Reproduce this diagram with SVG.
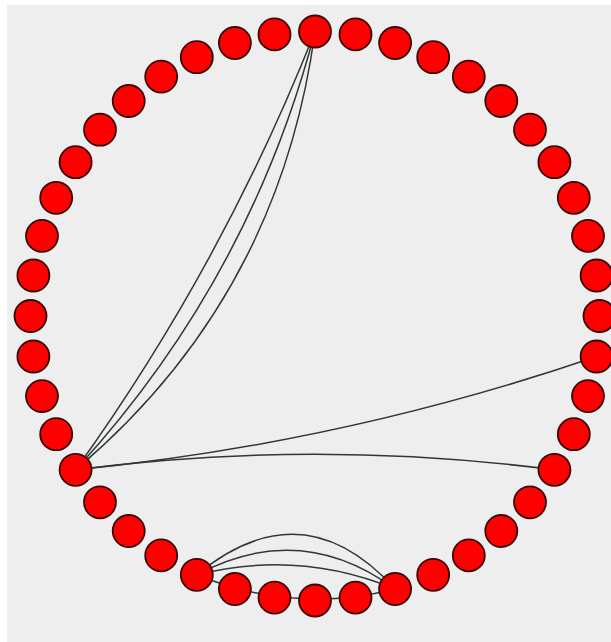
<svg xmlns="http://www.w3.org/2000/svg" width="611" height="642" viewBox="0 0 611 642">
<style>
.n{fill:#ff0000;stroke:#3a0505;stroke-width:1.8}
.e{fill:none;stroke:#2f3838;stroke-width:1.5}
</style>
<rect x="0" y="0" width="611" height="642" fill="#ffffff"/>
<rect x="7" y="5" width="604" height="637" fill="#eeeeee"/>
<g id="links">
<path class="e" d="M315,31.5 Q222.5,265.5 75.6,469.8"/>
<path class="e" d="M315,31.5 Q249.7,280.4 75.6,469.8"/>
<path class="e" d="M315,31.5 Q279,298 75.6,469.8"/>
<path class="e" d="M75.6,469.8 Q342.7,443.4 596.6,356.5"/>
<path class="e" d="M75.6,469.8 Q315,438.8 554.4,469.8"/>
<path class="e" d="M196.8,574.8 Q298.3,549.2 395.1,589"/>
<path class="e" d="M196.8,574.8 Q300.4,519.3 395.1,589"/>
<path class="e" d="M196.8,574.8 Q302.7,487.3 395.1,589"/>
<path class="e" d="M196.8,574.8 Q293.6,614.6 395.1,589"/>
</g>
<g id="nodes">
<g id="n0"><circle class="n" cx="315" cy="31.5" r="16"/></g>
<g id="n1"><circle class="n" cx="355.5" cy="34.4" r="16"/></g>
<g id="n2"><circle class="n" cx="395.1" cy="43" r="16"/></g>
<g id="n3"><circle class="n" cx="433.2" cy="57.2" r="16"/></g>
<g id="n4"><circle class="n" cx="468.8" cy="76.6" r="16"/></g>
<g id="n5"><circle class="n" cx="501.3" cy="101" r="16"/></g>
<g id="n6"><circle class="n" cx="530" cy="129.7" r="16"/></g>
<g id="n7"><circle class="n" cx="554.4" cy="162.2" r="16"/></g>
<g id="n8"><circle class="n" cx="573.8" cy="197.8" r="16"/></g>
<g id="n9"><circle class="n" cx="588" cy="235.9" r="16"/></g>
<g id="n10"><circle class="n" cx="596.6" cy="275.5" r="16"/></g>
<g id="n11"><circle class="n" cx="599.5" cy="316" r="16"/></g>
<g id="n12"><circle class="n" cx="596.6" cy="356.5" r="16"/></g>
<g id="n13"><circle class="n" cx="588" cy="396.1" r="16"/></g>
<g id="n14"><circle class="n" cx="573.8" cy="434.2" r="16"/></g>
<g id="n15"><circle class="n" cx="554.4" cy="469.8" r="16"/></g>
<g id="n16"><circle class="n" cx="530" cy="502.3" r="16"/></g>
<g id="n17"><circle class="n" cx="501.3" cy="531" r="16"/></g>
<g id="n18"><circle class="n" cx="468.8" cy="555.4" r="16"/></g>
<g id="n19"><circle class="n" cx="433.2" cy="574.8" r="16"/></g>
<g id="n20"><circle class="n" cx="395.1" cy="589" r="16"/></g>
<g id="n21"><circle class="n" cx="355.5" cy="597.6" r="16"/></g>
<g id="n22"><circle class="n" cx="315" cy="600.5" r="16"/></g>
<g id="n23"><circle class="n" cx="274.5" cy="597.6" r="16"/></g>
<g id="n24"><circle class="n" cx="234.9" cy="589" r="16"/></g>
<g id="n25"><circle class="n" cx="196.8" cy="574.8" r="16"/></g>
<g id="n26"><circle class="n" cx="161.2" cy="555.4" r="16"/></g>
<g id="n27"><circle class="n" cx="128.7" cy="531" r="16"/></g>
<g id="n28"><circle class="n" cx="100" cy="502.3" r="16"/></g>
<g id="n29"><circle class="n" cx="75.6" cy="469.8" r="16"/></g>
<g id="n30"><circle class="n" cx="56.2" cy="434.2" r="16"/></g>
<g id="n31"><circle class="n" cx="42" cy="396.1" r="16"/></g>
<g id="n32"><circle class="n" cx="33.4" cy="356.5" r="16"/></g>
<g id="n33"><circle class="n" cx="30.5" cy="316" r="16"/></g>
<g id="n34"><circle class="n" cx="33.4" cy="275.5" r="16"/></g>
<g id="n35"><circle class="n" cx="42" cy="235.9" r="16"/></g>
<g id="n36"><circle class="n" cx="56.2" cy="197.8" r="16"/></g>
<g id="n37"><circle class="n" cx="75.6" cy="162.2" r="16"/></g>
<g id="n38"><circle class="n" cx="100" cy="129.7" r="16"/></g>
<g id="n39"><circle class="n" cx="128.7" cy="101" r="16"/></g>
<g id="n40"><circle class="n" cx="161.2" cy="76.6" r="16"/></g>
<g id="n41"><circle class="n" cx="196.8" cy="57.2" r="16"/></g>
<g id="n42"><circle class="n" cx="234.9" cy="43" r="16"/></g>
<g id="n43"><circle class="n" cx="274.5" cy="34.4" r="16"/></g>
</g>
</svg>
